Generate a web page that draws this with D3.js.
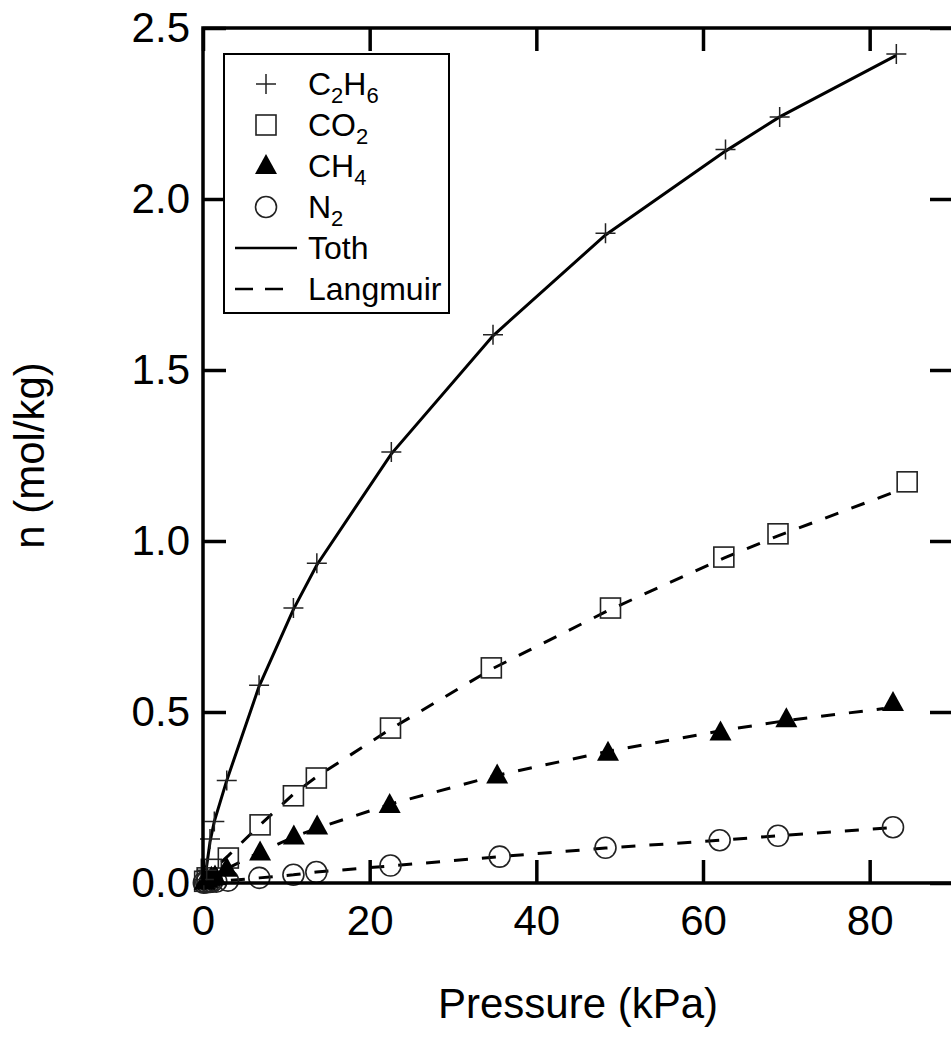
<!DOCTYPE html>
<html>
<head>
<meta charset="utf-8">
<script src="https://cdn.jsdelivr.net/npm/d3@7"></script>
<style>
  html, body { margin: 0; padding: 0; background: #fff; }
  svg { display: block; }
  text { font-family: "Liberation Sans", Arial, Helvetica, sans-serif; fill: #000; }
</style>
</head>
<body>
<svg id="chart" width="951" height="1040"></svg>
<script>
// ---- data ----
const xTicks = [0, 20, 40, 60, 80];
const yTicks = [0.0, 0.5, 1.0, 1.5, 2.0, 2.5];
const xTickLabels = ["0", "20", "40", "60", "80"];
const yTickLabels = ["0.0", "0.5", "1.0", "1.5", "2.0", "2.5"];

// C2H6 (plus markers)
const pC2H6 = [0.1, 0.44, 0.84, 1.36, 2.85, 6.73, 10.85, 13.66, 22.6, 34.8, 48.3, 62.7, 69.2, 83.2];
const nC2H6 = [0.01, 0.037, 0.129, 0.18, 0.30, 0.578, 0.804, 0.935, 1.26, 1.603, 1.90, 2.145, 2.24, 2.424];
// CO2 (open squares)
const pCO2 = [0.2, 0.5, 1.0, 3.04, 6.85, 10.85, 13.6, 22.5, 34.6, 48.9, 62.5, 69.0, 84.5];
const nCO2 = [0.005, 0.015, 0.04, 0.073, 0.17, 0.255, 0.307, 0.453, 0.629, 0.804, 0.953, 1.021, 1.173];
// CH4 (filled triangles)
const pCH4 = [0.2, 0.5, 1.0, 1.44, 2.85, 6.85, 10.9, 13.7, 22.4, 35.3, 48.6, 62.1, 70.0, 82.8];
const nCH4 = [0.004, 0.01, 0.015, 0.019, 0.042, 0.089, 0.136, 0.165, 0.228, 0.314, 0.381, 0.44, 0.479, 0.526];
// N2 (open circles)
const pN2 = [0.1, 0.4, 0.8, 1.1, 1.6, 3.0, 6.76, 10.85, 13.6, 22.5, 35.6, 48.3, 62.0, 69.0, 82.8];
const nN2 = [0.001, 0.002, 0.003, 0.004, 0.004, 0.007, 0.015, 0.024, 0.032, 0.051, 0.077, 0.103, 0.125, 0.138, 0.163];

// fitted curves
const pTothC2H6 = [0, 0.44, 0.84, 1.36, 2.85, 6.73, 10.85, 13.66, 22.6, 34.8, 48.3, 62.7, 69.2, 83.2];
const nTothC2H6 = [0, 0.05, 0.12, 0.18, 0.30, 0.575, 0.80, 0.93, 1.255, 1.60, 1.895, 2.14, 2.24, 2.42];
const pLangCO2 = [0, 1.0, 3.04, 6.85, 10.85, 13.6, 22.5, 34.6, 48.9, 62.5, 69.0, 83.7];
const nLangCO2 = [0, 0.035, 0.08, 0.17, 0.26, 0.31, 0.45, 0.625, 0.80, 0.95, 1.015, 1.15];
const pLangCH4 = [0, 1.44, 2.85, 6.85, 10.9, 13.7, 22.4, 35.3, 48.6, 62.1, 70.0, 81.7];
const nLangCH4 = [0, 0.02, 0.042, 0.09, 0.135, 0.16, 0.23, 0.315, 0.385, 0.445, 0.475, 0.51];
const pLangN2 = [0, 3.0, 6.76, 10.85, 13.6, 22.5, 35.6, 48.3, 62.0, 69.0, 82.8];
const nLangN2 = [0, 0.007, 0.015, 0.024, 0.032, 0.05, 0.077, 0.102, 0.125, 0.138, 0.162];

const legendLabels = [
  {base: "C", sub1: "2", mid: "H", sub2: "6", kind: "plus"},
  {base: "CO", sub1: "2", mid: "", sub2: "", kind: "square"},
  {base: "CH", sub1: "4", mid: "", sub2: "", kind: "triangle"},
  {base: "N", sub1: "2", mid: "", sub2: "", kind: "circle"},
  {base: "Toth", sub1: "", mid: "", sub2: "", kind: "solid"},
  {base: "Langmuir", sub1: "", mid: "", sub2: "", kind: "dashed"}
];

// ---- layout ----
const svg = d3.select("#chart");
const L = 203, R = 953, T = 28, B = 883;
const x = d3.scaleLinear().domain([0, 90]).range([L, R]);
const y = d3.scaleLinear().domain([0, 2.5]).range([B, T]);
const axisW = 3.5, tickLen = 23;

const zip = (a, b) => a.map((v, i) => [v, b[i]]);
const line = d3.line().x(d => x(d[0])).y(d => y(d[1]));

// fitted lines
svg.append("path").attr("d", line(zip(pTothC2H6, nTothC2H6)))
  .attr("fill", "none").attr("stroke", "#000").attr("stroke-width", 3);
[[pLangCO2, nLangCO2], [pLangCH4, nLangCH4], [pLangN2, nLangN2]].forEach(([p, n]) => {
  svg.append("path").attr("d", line(zip(p, n)))
    .attr("fill", "none").attr("stroke", "#000").attr("stroke-width", 3)
    .attr("stroke-dasharray", "14,14");
});

// markers
const mk = svg.append("g");
function drawMarker(g, kind, cx, cy) {
  if (kind === "plus") {
    g.append("path").attr("d", `M${cx-10},${cy}H${cx+10}M${cx},${cy-10}V${cy+10}`)
      .attr("stroke", "#222").attr("stroke-width", 1.5).attr("fill", "none");
  } else if (kind === "square") {
    g.append("rect").attr("x", cx - 10).attr("y", cy - 10).attr("width", 20).attr("height", 20)
      .attr("fill", "none").attr("stroke", "#222").attr("stroke-width", 1.6);
  } else if (kind === "triangle") {
    g.append("path").attr("d", `M${cx},${cy-12}L${cx+11},${cy+8}L${cx-11},${cy+8}Z`)
      .attr("fill", "#000").attr("stroke", "none");
  } else if (kind === "circle") {
    g.append("circle").attr("cx", cx).attr("cy", cy).attr("r", 10.5)
      .attr("fill", "none").attr("stroke", "#222").attr("stroke-width", 1.6);
  }
}
zip(pN2, nN2).forEach(d => drawMarker(mk, "circle", x(d[0]), y(d[1])));
zip(pCO2, nCO2).forEach(d => drawMarker(mk, "square", x(d[0]), y(d[1])));
zip(pCH4, nCH4).forEach(d => drawMarker(mk, "triangle", x(d[0]), y(d[1])));
zip(pC2H6, nC2H6).forEach(d => drawMarker(mk, "plus", x(d[0]), y(d[1])));

// axes (ticks inward on all four sides)
const fs = 42;
const gx = svg.append("g").attr("transform", `translate(0,${B})`)
  .call(d3.axisBottom(x).tickValues(xTicks).tickFormat((d, i) => xTickLabels[i])
    .tickSizeInner(-tickLen).tickSizeOuter(0).tickPadding(22));
const gxt = svg.append("g").attr("transform", `translate(0,${T})`)
  .call(d3.axisTop(x).tickValues(xTicks).tickFormat("").tickSizeInner(-tickLen).tickSizeOuter(0));
const gy = svg.append("g").attr("transform", `translate(${L},0)`)
  .call(d3.axisLeft(y).tickValues(yTicks).tickFormat((d, i) => yTickLabels[i])
    .tickSizeInner(-tickLen).tickSizeOuter(0).tickPadding(13));
const gyr = svg.append("g").attr("transform", `translate(${R},0)`)
  .call(d3.axisRight(y).tickValues(yTicks).tickFormat("").tickSizeInner(-tickLen).tickSizeOuter(0));
[gx, gxt, gy, gyr].forEach(g => {
  g.select(".domain").remove();
  g.selectAll(".tick line").attr("stroke", "#000").attr("stroke-width", axisW);
  g.selectAll(".tick text").attr("font-size", fs).attr("fill", "#000")
    .attr("font-family", '"Liberation Sans", Arial, sans-serif');
});

// frame
svg.append("rect").attr("x", L).attr("y", T).attr("width", R - L).attr("height", B - T)
  .attr("fill", "none").attr("stroke", "#000").attr("stroke-width", axisW);

// axis titles
svg.append("text").attr("x", (L + R) / 2).attr("y", 1018).attr("text-anchor", "middle")
  .attr("font-size", fs).text("Pressure (kPa)");
svg.append("text").attr("transform", `translate(44,${(T + B) / 2}) rotate(-90)`)
  .attr("text-anchor", "middle").attr("font-size", fs).text("n (mol/kg)");

// legend
const lg = svg.append("g");
lg.append("rect").attr("x", 224).attr("y", 54).attr("width", 225).attr("height", 259)
  .attr("fill", "#fff").attr("stroke", "#000").attr("stroke-width", 2);
const lfs = 32, lsub = 22;
legendLabels.forEach((e, i) => {
  const by = 95 + 41 * i;
  const my = by - 11;
  if (e.kind === "solid") {
    lg.append("line").attr("x1", 235).attr("x2", 297).attr("y1", my).attr("y2", my)
      .attr("stroke", "#000").attr("stroke-width", 2.5);
  } else if (e.kind === "dashed") {
    lg.append("line").attr("x1", 235).attr("x2", 283).attr("y1", my).attr("y2", my)
      .attr("stroke", "#000").attr("stroke-width", 2.5).attr("stroke-dasharray", "18,12");
  } else {
    drawMarker(lg, e.kind, 266, my);
  }
  const t = lg.append("text").attr("x", 308).attr("y", by).attr("font-size", lfs);
  t.append("tspan").text(e.base);
  if (e.sub1) t.append("tspan").attr("font-size", lsub).attr("dy", 8).text(e.sub1);
  if (e.mid) t.append("tspan").attr("dy", -8).text(e.mid);
  if (e.sub2) t.append("tspan").attr("font-size", lsub).attr("dy", 8).text(e.sub2);
});
</script>
</body>
</html>
